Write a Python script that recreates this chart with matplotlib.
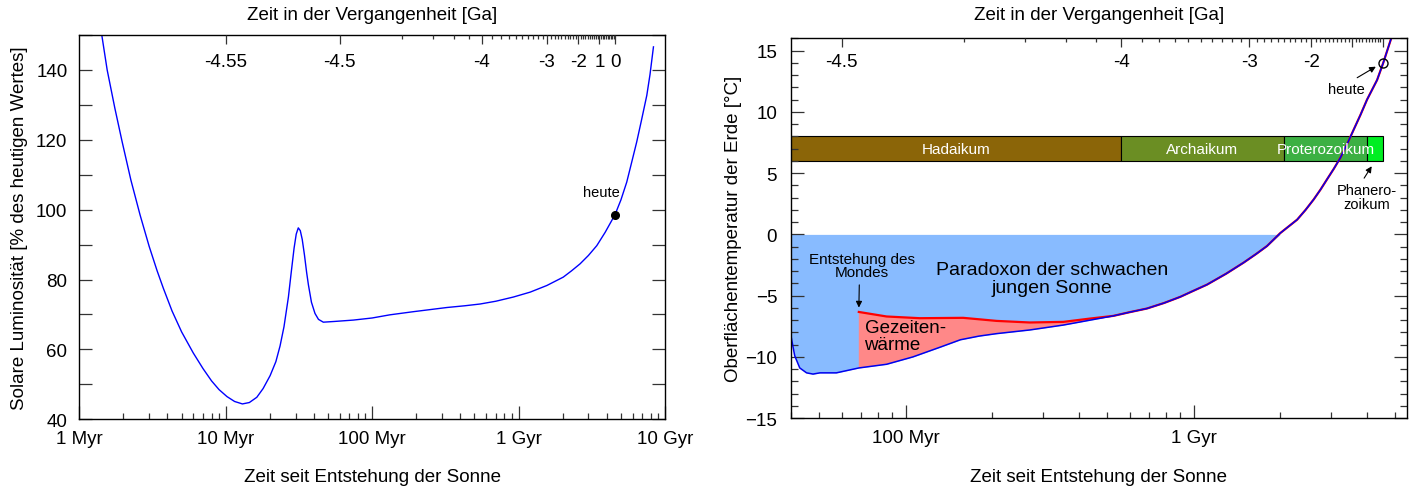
#solar luminosity and faint young sun paradox, two log-time panels

import numpy as np
import matplotlib
matplotlib.use('Agg')
import matplotlib.pyplot as plt
from matplotlib.ticker import LogLocator, NullFormatter, MultipleLocator

plt.rcParams['font.family'] = ['Liberation Sans', 'DejaVu Sans']

#age of the sun [Ga]
age = 4.56

#left panel: luminosity [% of today] vs time since formation [Myr]
lum_t = [1.40, 1.55, 1.75, 1.96, 2.25, 2.6, 3.0, 3.4, 3.75, 4.3, 5.0, 6.0, 7.0, 8.0, 9.0,
         10.2, 11.5, 13.0, 14.5, 16.3, 18.0, 20.1, 22.0, 23.5, 25.0, 26.8, 28.0, 29.3, 30.3,
         31.3, 32.3, 33.3, 34.5, 35.7, 36.7, 38.5, 40.7, 43.0, 46.4, 55, 74.4, 100, 132,
         191, 260, 324, 430, 546, 700, 922, 1200, 1560, 2020, 2300, 2630, 3000, 3420, 3900,
         4560, 5000, 5480, 5900, 6410, 6900, 7510, 7900, 8340]
lum = [152, 140, 129, 119.5, 108.5, 98.5, 89.5, 82.5, 77.5, 71, 65, 59, 54.5, 51, 48.5,
       46.5, 45.1, 44.4, 44.8, 46.3, 48.8, 52.5, 56.5, 61, 66.5, 75, 82, 89, 93,
       94.8, 94.0, 91.5, 87, 82, 78.5, 73.5, 70.3, 68.6, 67.8, 68.0, 68.4, 69.0, 69.9,
       70.8, 71.5, 72.0, 72.5, 73.0, 73.8, 75.0, 76.4, 78.3, 80.7, 82.5, 84.5, 86.9, 89.7, 93.5,
       98.6, 102.8, 107.9, 113.3, 119.4, 125.5, 132.7, 138.7, 146.6]
heute_lum = 98.6

#right panel: surface temperature [C]
temp_t = [40, 41.2, 42.9, 45.3, 47.7, 50.4, 57.5, 68.8, 85.9, 106, 132, 155, 180, 207, 270,
          353, 461, 527, 600, 689, 790, 899, 1000, 1114, 1300, 1494, 1650, 1800, 2000, 2140,
          2290, 2450, 2614, 2760, 2910, 3070, 3236, 3420, 3600, 3800, 4006, 4170, 4341,
          4560, 4860]
temp = [-8.3, -9.9, -10.9, -11.3, -11.4, -11.3, -11.3, -10.9, -10.6, -10.0, -9.2, -8.6, -8.3,
        -8.1, -7.8, -7.4, -6.9, -6.65, -6.35, -6.05, -5.6, -5.1, -4.6, -4.1, -3.2, -2.3,
        -1.6, -0.95, 0.1, 0.65, 1.2, 2.0, 2.85, 3.65, 4.5, 5.35, 6.25, 7.4, 8.55, 9.75,
        11.0, 11.8, 12.6, 14.0, 16.0]
heute_temp = 14.0

#with tidal heating, from moon formation on
tidal_t = [68.8, 85.9, 112, 158.5, 207, 270, 353, 437, 527]
tidal = [-6.33, -6.70, -6.84, -6.81, -7.06, -7.19, -7.14, -6.87, -6.65]
moon_t = 68.8

#eons [Ga before today]
eon_names = ['Hadaikum', 'Archaikum', 'Proterozoikum', '']
eon_start = [4.56, 4.0, 2.5, 0.541]
eon_end = [4.0, 2.5, 0.541, 0.0]
eon_colors = ['#8b6508', '#6b8e23', '#3cb043', '#00ee22']

#tick labels
bot_ticks_l = [1, 10, 100, 1000, 10000]
bot_labels_l = ['1 Myr', '10 Myr', '100 Myr', '1 Gyr', '10 Gyr']
bot_ticks_r = [100, 1000]
bot_labels_r = ['100 Myr', '1 Gyr']
top_ga_l = [-4.55, -4.5, -4, -3, -2, -1, 0]
top_labels_l = ['-4.55', '-4.5', '-4', '-3', '-2', '1', '0']
top_ga_r = [-4.5, -4, -3, -2, -1, 0]
top_labels_r = ['-4.5', '-4', '-3', '-2', '', '']
top_ga_minor = [round(-4.5 + 0.1 * i, 2) for i in range(46)]

fs = 13.5
tick_c = '#333333'


def ga_to_t(ga):
    return [(age + g) * 1000 for g in ga]


def style_axes(ax, xlim, bticks, blabels, tga, tlabels, tpad):
    ax.set_xscale('log')
    ax.set_xlim(xlim)
    ax.set_xticks(bticks, blabels)
    ax.xaxis.set_minor_locator(LogLocator(base=10, subs=np.arange(2, 10)))
    ax.xaxis.set_minor_formatter(NullFormatter())
    ax.tick_params(axis='both', which='both', direction='in', color=tick_c, width=0.9,
                   labelsize=fs)
    ax.tick_params(axis='x', which='major', length=9.4, pad=7.5)
    ax.tick_params(axis='x', which='minor', length=4.3)
    ax.tick_params(axis='y', which='both', left=True, right=True)
    for s in ax.spines.values():
        s.set_linewidth(1.0)

    top = ax.twiny()
    top.set_xscale('log')
    top.set_xlim(xlim)
    top.set_xticks(ga_to_t(tga), tlabels)
    minor = [g for g in top_ga_minor if g not in tga]
    top.set_xticks(ga_to_t(minor), minor=True)
    top.xaxis.set_minor_formatter(NullFormatter())
    top.tick_params(axis='x', which='both', direction='in', color=tick_c, width=0.9,
                    labelsize=fs)
    top.tick_params(axis='x', which='major', length=6.5, pad=tpad)
    top.tick_params(axis='x', which='minor', length=3)
    for s in top.spines.values():
        s.set_visible(False)
    top.set_xlabel('Zeit in der Vergangenheit [Ga]', fontsize=fs)
    ax.set_xlabel('Zeit seit Entstehung der Sonne', fontsize=fs)
    return top


fig = plt.figure(figsize=(14.16, 4.89), dpi=100)
ax1 = fig.add_axes([79.3 / 1416, 1 - 420.3 / 489, 585.7 / 1416, 384.3 / 489])
ax2 = fig.add_axes([791 / 1416, 1 - 419.2 / 489, 615.7 / 1416, 379.9 / 489])

#left panel
ax1.plot(lum_t, lum, color='#0000ff', lw=1.0)
ax1.plot([age * 1000], [heute_lum], 'o', color='black', ms=5.5)
ax1.text(3660, 105, 'heute', ha='center', va='center', fontsize=10.5)
ax1.set_ylim(40, 150)
ax1.yaxis.set_major_locator(MultipleLocator(20))
ax1.yaxis.set_minor_locator(MultipleLocator(10))
top1 = style_axes(ax1, (1, 10000), bot_ticks_l, bot_labels_l, top_ga_l, top_labels_l, -25.5)
ax1.tick_params(axis='y', which='both', length=9.4, pad=8.5)
ax1.set_ylabel('Solare Luminosität [% des heutigen Wertes]', fontsize=fs)
ax1.yaxis.set_label_coords(-0.087, 0.5)
ax1.xaxis.set_label_coords(0.5, -0.126)
top1.xaxis.set_label_coords(0.5, 1.041)

#right panel
temp_a = np.array(temp)
ax2.fill_between(temp_t, np.minimum(temp_a, 0), 0, color='#88bbff', lw=0)
blue_part = [(t, v) for t, v in zip(temp_t, temp) if moon_t <= t <= tidal_t[-1]]
poly_x = tidal_t + [p[0] for p in blue_part[::-1]]
poly_y = tidal + [p[1] for p in blue_part[::-1]]
ax2.fill(poly_x, poly_y, color='#ff8888', lw=0)
red_t = tidal_t + [t for t in temp_t if t > tidal_t[-1]]
red_v = tidal + [v for t, v in zip(temp_t, temp) if t > tidal_t[-1]]
ax2.plot(red_t, red_v, color='#ff0000', lw=1.6)
ax2.plot(temp_t, temp, color='#0000ee', lw=1.1)
ax2.plot([age * 1000], [heute_temp], 'o', mfc='none', mec='black', ms=6.5, mew=1.0)

top2 = style_axes(ax2, (40, 5500), bot_ticks_r, bot_labels_r, top_ga_r, top_labels_r, -23.0)
ax2.set_ylim(-15, 16)
ax2.yaxis.set_major_locator(MultipleLocator(5))
ax2.yaxis.set_minor_locator(MultipleLocator(1))
ax2.tick_params(axis='y', which='major', length=9.4, pad=10)
ax2.tick_params(axis='y', which='minor', length=5)

#eon bar
xl = ax2.get_xlim()[0]
e_left = [max((age - s) * 1000, 1.0) for s in eon_start]
e_right = [(age - e) * 1000 for e in eon_end]
ax2.barh(7, [r - l for l, r in zip(e_left, e_right)], left=e_left, height=2,
         color=eon_colors, edgecolor='black', lw=0.8)
for name, l, r in zip(eon_names, e_left, e_right):
    ax2.text(np.sqrt(max(l, xl) * r), 7, name, color='white', ha='center', va='center',
             fontsize=11)

arrow = dict(arrowstyle='-|>', color='black', lw=0.8, mutation_scale=9)
ax2.annotate('heute', xy=(4380, 13.8), xytext=(3396, 11.87), ha='center', va='center',
             fontsize=10.5, arrowprops=dict(arrow, relpos=(0.6, 1)))
ax2.annotate('Phanero-\nzoikum', xy=(4207, 5.75), xytext=(4000, 3.05), ha='center',
             va='center', fontsize=10.5, linespacing=0.95,
             arrowprops=dict(arrow, relpos=(0.4, 1)))
ax2.annotate('Entstehung des\nMondes', xy=(moon_t, -6.2), xytext=(70.3, -2.55),
             ha='center', va='center', fontsize=11, linespacing=0.95,
             arrowprops=dict(arrow, relpos=(0.48, 0)))
ax2.text(322, -3.62, 'Paradoxon der schwachen\njungen Sonne', ha='center', va='center',
         fontsize=14, linespacing=1.05)
ax2.text(72, -8.3, 'Gezeiten-\nwärme', ha='left', va='center', fontsize=13.5,
         linespacing=0.95)

ax2.set_ylabel('Oberflächentemperatur der Erde [°C]', fontsize=fs)
ax2.yaxis.set_label_coords(-0.0796, 0.5)
ax2.xaxis.set_label_coords(0.5, -0.13)
top2.xaxis.set_label_coords(0.5, 1.050)

fig.savefig('out.png', dpi=100)
